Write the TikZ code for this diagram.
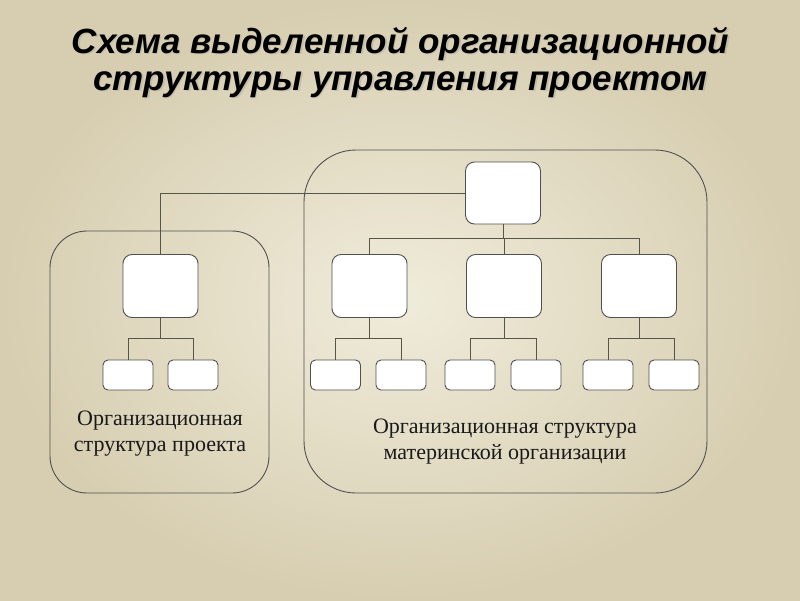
\documentclass[tikz,border=0pt]{standalone}
\usepackage{fontspec}
\setmainfont{Liberation Serif}
\newfontfamily\titlefont{Liberation Sans}
\usetikzlibrary{calc}
\definecolor{bgin}{HTML}{F0ECDB}
\definecolor{bgout}{HTML}{D7CEB1}
\definecolor{linec}{HTML}{55554A}
\definecolor{boxline}{HTML}{505050}
\tikzset{
  container/.style={draw=boxline, line width=0.9pt, rectangle, inner sep=0pt},
  bigbox/.style={draw=boxline, fill=white, line width=0.9pt, rectangle, rounded corners=9pt, minimum width=75pt, minimum height=63pt, inner sep=0pt},
  smallbox/.style={draw=boxline, fill=white, line width=0.9pt, rectangle, rounded corners=5pt, minimum width=50pt, minimum height=30pt, inner sep=0pt},
  conn/.style={draw=linec, line width=0.9pt},
  lbl/.style={align=center, font=\fontsize{22}{26}\selectfont, text=black!90, inner sep=0pt},
  ttl/.style={align=center, font=\titlefont\bfseries\itshape\fontsize{35}{37}\selectfont, inner sep=0pt}
}
\begin{document}
\begin{tikzpicture}[x=1pt,y=-1pt]
\useasboundingbox (0,0) rectangle (800,600);
\shade[inner color=bgin, outer color=bgout] (0,0) rectangle (800,600);
% title
\node[ttl, text=black!40, opacity=0.35] at (402,64) {Схема выделенной организационной\\структуры управления проектом};
\node[ttl, text=black] (title) at (400.5,62.5) {Схема выделенной организационной\\структуры управления проектом};
% containers
\node[container, rounded corners=37pt, minimum width=219pt, minimum height=262pt] (projbox) at (159.5,362) {};
\node[container, rounded corners=52pt, minimum width=403pt, minimum height=343pt] (parentbox) at (505.5,321.5) {};
% top box
\node[bigbox, minimum height=62pt] (T) at (503,193) {};
% middle boxes
\node[bigbox] (L) at (160.5,286) {};
\node[bigbox] (M1) at (369.5,286) {};
\node[bigbox] (M2) at (504,286) {};
\node[bigbox] (M3) at (639,286) {};
% children
\node[smallbox] (L1) at (128,375) {};
\node[smallbox] (L2) at (193,375) {};
\node[smallbox] (A1) at (335.5,375) {};
\node[smallbox] (A2) at (401,375) {};
\node[smallbox] (B1) at (470,375) {};
\node[smallbox] (B2) at (536,375) {};
\node[smallbox] (C1) at (608,375) {};
\node[smallbox] (C2) at (674,375) {};
% bus coordinates
\coordinate (busM) at (0,238);
\coordinate (busC) at (0,338);
% connectors
\draw[conn] (T.west) -| (L.north);
\draw[conn] (T.south) -- (T.south |- busM);
\draw[conn] (M1.north) -- (M1.north |- busM) -- (M3.north |- busM) -- (M3.north);
\draw[conn] (M2.north) -- (M2.north |- busM);
\foreach \p/\a/\b in {L/L1/L2, M1/A1/A2, M2/B1/B2, M3/C1/C2}{
  \draw[conn] (\p.south) -- (\p.south |- busC);
  \draw[conn] (\a.north) -- (\a.north |- busC) -- (\b.north |- busC) -- (\b.north);
}
% labels
\node[lbl] (projlbl) at (160,434) {Организационная\\структура проекта};
\node[lbl] (parentlbl) at (505,442) {Организационная структура\\материнской организации};
\end{tikzpicture}
\end{document}
